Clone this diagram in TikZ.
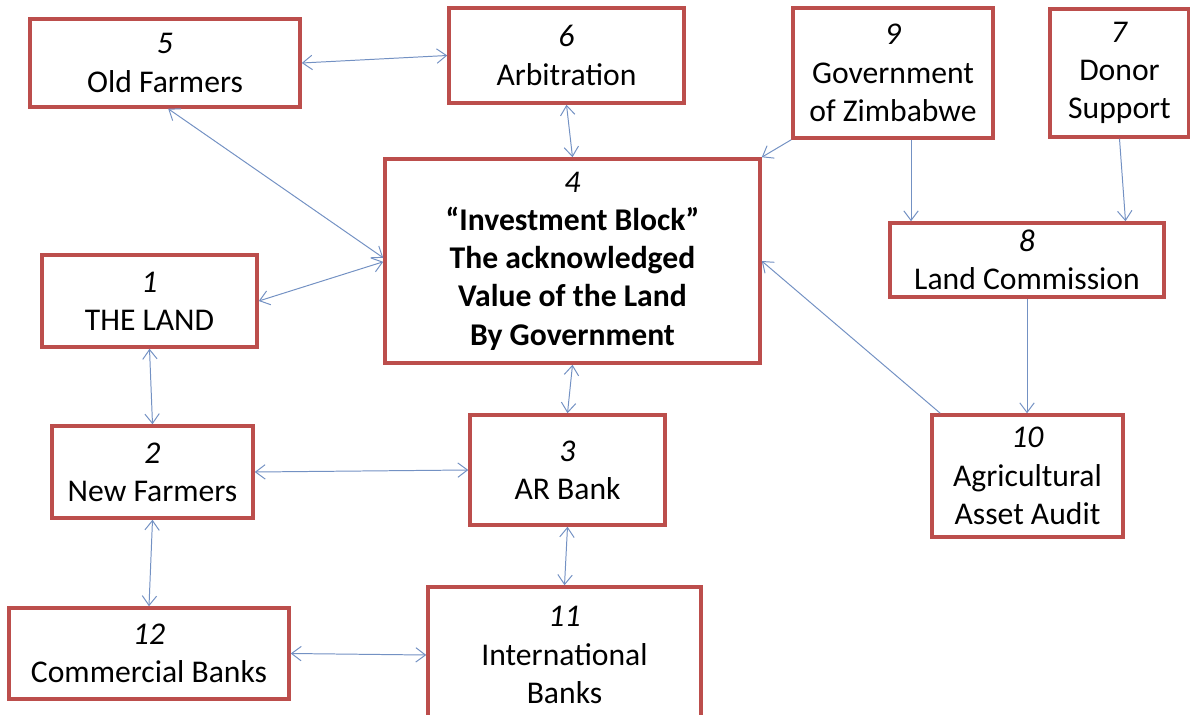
\documentclass[tikz,border=0pt]{standalone}
\usepackage{fontspec}
\setmainfont{Carlito}
\usepackage{xcolor}
\definecolor{boxred}{RGB}{188,78,76}
\definecolor{linkblue}{RGB}{115,145,195}
\usetikzlibrary{arrows.meta}

\begin{document}
\begin{tikzpicture}[x=0.025cm, y=-0.025cm,
  blockbox/.style={draw=boxred, line width=2.5pt, fill=white, align=center,
    inner sep=0pt, font=\fontsize{22.5}{27.2}\selectfont},
  boxsize/.style 2 args={minimum width=#1*0.025cm, minimum height=#2*0.025cm},
  link/.style={linkblue, line width=0.7pt},
  both/.style={link, {Straight Barb[length=2.4mm,width=3.6mm]}-{Straight Barb[length=2.4mm,width=3.6mm]}},
  one/.style={link, -{Straight Barb[length=2.4mm,width=3.6mm]}}]
\useasboundingbox (0,0) rectangle (1190,715);

% Top row
\node[blockbox, boxsize={270}{88}] (n5) at (165,63) {\textit{5}\\Old Farmers};
\node[blockbox, boxsize={235}{95}] (n6) at (566.5,55.5) {\textit{6}\\Arbitration};
\node[blockbox, boxsize={200}{130}] (n9) at (893,73) {\textit{9}\\Government\\of Zimbabwe};
\node[blockbox, boxsize={139}{128}] (n7) at (1119.5,73) {\textit{7}\\Donor\\Support};

% Centre block
\node[blockbox, boxsize={375}{204}] (n4) at (572.5,261)
  {\textit{4}\\\textbf{``Investment Block''}\\\textbf{The acknowledged}\\\textbf{Value of the Land}\\\textbf{By Government}};

% Right column
\node[blockbox, boxsize={274}{74}] (n8) at (1027,260) {\textit{8}\\Land Commission};
\node[blockbox, boxsize={191}{122}] (n10) at (1027.5,476) {\textit{10}\\Agricultural\\Asset Audit};

% Left column and banks
\node[blockbox, boxsize={215}{92}] (n1) at (149.5,301) {\textit{1}\\THE LAND};
\node[blockbox, boxsize={201}{92}] (n2) at (152.5,472) {\textit{2}\\New Farmers};
\node[blockbox, boxsize={195}{110}] (n3) at (567.5,470) {\textit{3}\\AR Bank};
\node[blockbox, boxsize={280}{91}] (n12) at (149,653.5) {\textit{12}\\Commercial Banks};
\node[blockbox, boxsize={273}{136}] (n11) at (564.5,655) {\textit{11}\\International\\Banks};

% Two-way links
\draw[both] (n5.east) -- (n6.west);
\draw[both] (n6.south) -- (n4.north);
\draw[both] ([xshift=0.08cm]n5.south) -- ([yshift=0.08cm]n4.west);
\draw[both] ([yshift=-0.02cm]n4.west) -- (n1.east);
\draw[both] (n1.south) -- (n2.north);
\draw[both] (n4.south) -- (n3.north);
\draw[both] (n2.east) -- (n3.west);
\draw[both] (n2.south) -- (n12.north);
\draw[both] (n3.south) -- (n11.north);
\draw[both] (n12.east) -- (n11.west);

% One-way links
\draw[one] (n9.south west) -- (n4.north east);
\draw[one] ([xshift=0.45cm]n9.south) -- ([xshift=0.45cm]n9.south |- n8.north);
\draw[one] (n7.south) -- ([xshift=0.15cm]n7.south |- n8.north);
\draw[one] (n8.south) -- (n8.south |- n10.north);
\draw[one] ([xshift=0.25cm]n10.north west) -- (n4.east);

\end{tikzpicture}
\end{document}
